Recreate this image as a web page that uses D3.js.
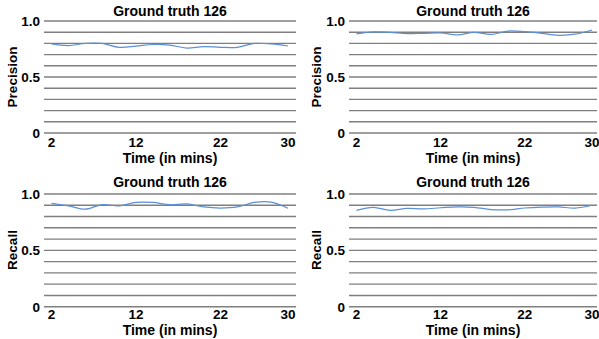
<!DOCTYPE html>
<html>
<head>
<meta charset="utf-8">
<script src="https://cdn.jsdelivr.net/npm/d3@7"></script>
<style>
  body { margin: 0; background: #fff; }
  text { font-family: "Liberation Sans", Arial, sans-serif; font-weight: bold; fill: #000; }
</style>
</head>
<body>
<div id="chart"></div>
<script>
var minutes = [2, 4, 6, 8, 10, 12, 14, 16, 18, 20, 22, 24, 26, 28, 30];
var xTicks = [2, 12, 22, 30];
var yTicks = [0, 0.5, 1.0];
var gridValues = [0, 0.1, 0.2, 0.3, 0.4, 0.5, 0.6, 0.7, 0.8, 0.9, 1.0];

var precisionA = [0.795, 0.78, 0.80, 0.80, 0.765, 0.775, 0.79, 0.785, 0.758, 0.772, 0.765, 0.765, 0.80, 0.795, 0.777];
var precisionB = [0.885, 0.903, 0.898, 0.887, 0.89, 0.893, 0.876, 0.898, 0.88, 0.91, 0.905, 0.89, 0.872, 0.882, 0.92];
var recallA = [0.917, 0.895, 0.865, 0.905, 0.895, 0.925, 0.925, 0.905, 0.912, 0.885, 0.875, 0.885, 0.925, 0.928, 0.873];
var recallB = [0.855, 0.882, 0.855, 0.872, 0.868, 0.878, 0.886, 0.882, 0.862, 0.86, 0.876, 0.884, 0.886, 0.875, 0.9];

var titles = ["Ground truth 126", "Ground truth 126", "Ground truth 126", "Ground truth 126"];
var yLabels = ["Precision", "Precision", "Recall", "Recall"];
var series = [precisionA, precisionB, recallA, recallB];

var width = 599, height = 339;

// layout per panel: column / row geometry
var cols = [
  { gridL: 44, gridR: 296, x2: 51.5, x30: 288, tickRight: 40, yTitleX: 12.5 },
  { gridL: 349, gridR: 597, x2: 356.5, x30: 592, tickRight: 345, yTitleX: 316.5 }
];
var rows = [
  { top: 21, bottom: 133, titleY: 10.5, xTickY: 142, xTitleY: 158, yTitleY: 77 },
  { top: 194, bottom: 306.7, titleY: 182, xTickY: 314, xTitleY: 329.5, yTitleY: 250 }
];

var svg = d3.select("#chart").append("svg")
  .attr("width", width)
  .attr("height", height);

series.forEach(function (values, i) {
  var c = cols[i % 2], r = rows[Math.floor(i / 2)];

  var x = d3.scaleLinear().domain([2, 30]).range([c.x2, c.x30]);
  var y = d3.scaleLinear().domain([0, 1]).range([r.bottom, r.top]);

  var g = svg.append("g");

  g.selectAll("line.grid")
    .data(gridValues)
    .enter()
    .append("line")
    .attr("class", "grid")
    .attr("x1", c.gridL)
    .attr("x2", c.gridR)
    .attr("y1", function (d) { return y(d); })
    .attr("y2", function (d) { return y(d); })
    .attr("stroke", "#7f7f7f")
    .attr("stroke-width", 1.4);

  g.selectAll("text.ytick")
    .data(yTicks)
    .enter()
    .append("text")
    .attr("class", "ytick")
    .attr("x", c.tickRight)
    .attr("y", function (d) { return y(d); })
    .attr("dy", "0.36em")
    .attr("text-anchor", "end")
    .style("font-size", "13.5px")
    .text(function (d) { return d === 0 ? "0" : d3.format(".1f")(d); });

  g.selectAll("text.xtick")
    .data(xTicks)
    .enter()
    .append("text")
    .attr("class", "xtick")
    .attr("x", function (d) { return x(d); })
    .attr("y", r.xTickY)
    .attr("dy", "0.36em")
    .attr("text-anchor", "middle")
    .style("font-size", "13.5px")
    .text(function (d) { return d; });

  var line = d3.line()
    .x(function (d, j) { return x(minutes[j]); })
    .y(function (d) { return y(d); })
    .curve(d3.curveCatmullRom.alpha(0.5));

  g.append("path")
    .datum(values)
    .attr("d", line)
    .attr("fill", "none")
    .attr("stroke", "#5b8fd9")
    .attr("stroke-width", 1.2);

  var mid = (c.gridL + c.gridR) / 2;

  g.append("text")
    .attr("x", mid)
    .attr("y", r.titleY)
    .attr("dy", "0.36em")
    .attr("text-anchor", "middle")
    .style("font-size", "14px")
    .text(titles[i]);

  g.append("text")
    .attr("x", mid)
    .attr("y", r.xTitleY)
    .attr("dy", "0.36em")
    .attr("text-anchor", "middle")
    .style("font-size", "14px")
    .text("Time (in mins)");

  g.append("text")
    .attr("transform", "translate(" + c.yTitleX + "," + r.yTitleY + ") rotate(-90)")
    .attr("dy", "0.36em")
    .attr("text-anchor", "middle")
    .style("font-size", "13.5px")
    .text(yLabels[i]);
});
</script>
</body>
</html>
